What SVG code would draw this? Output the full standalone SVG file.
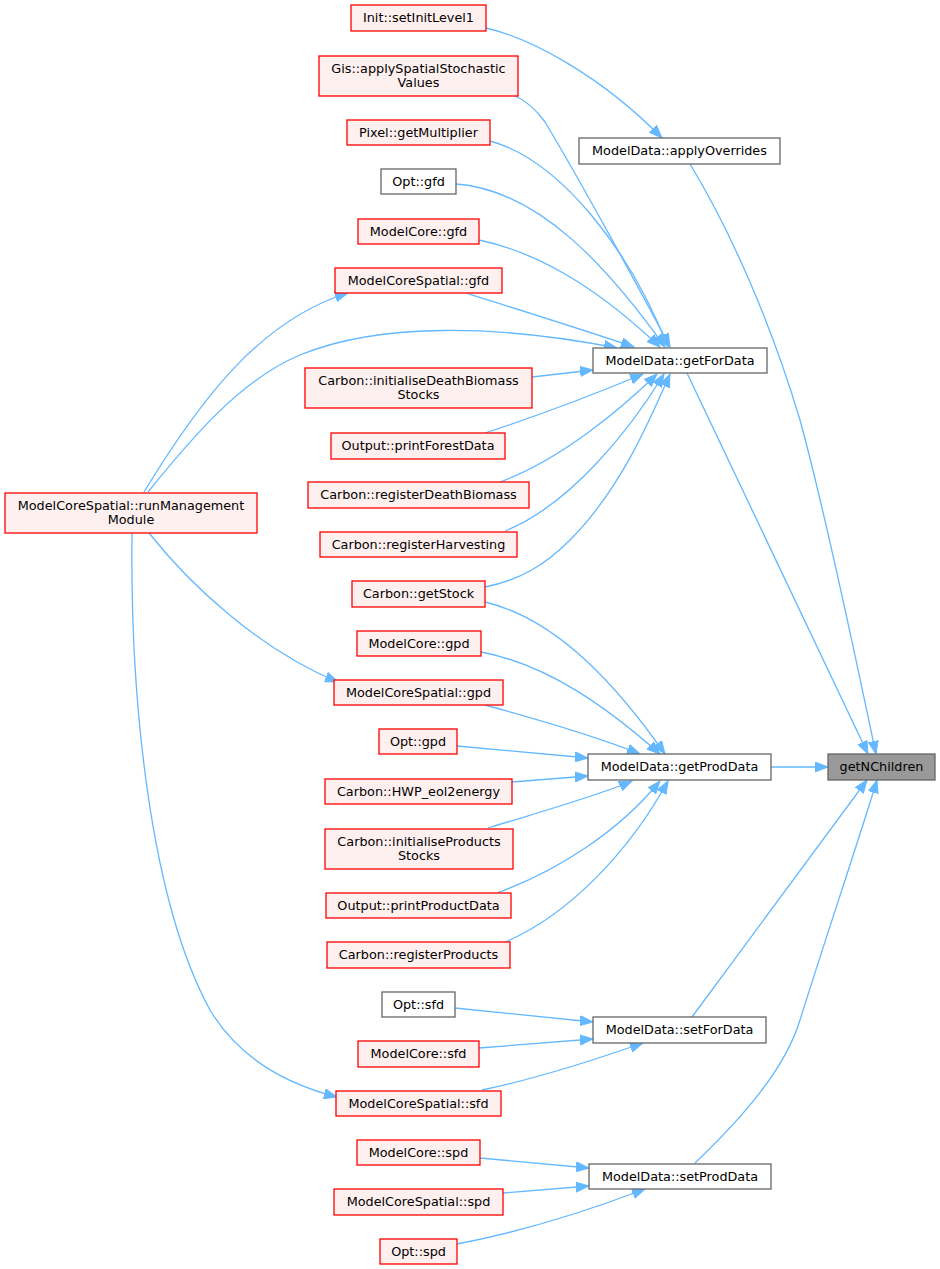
<svg xmlns="http://www.w3.org/2000/svg" width="940" height="1269" viewBox="0 0 940 1269">
<style>
  .n rect{stroke-width:1.3}
  .red rect{fill:#fff0f0;stroke:#ff0000}
  .wht rect{fill:#ffffff;stroke:#666666}
  .cur rect{fill:#999999;stroke:#666666}
  text{font-family:"DejaVu Sans","Liberation Sans",sans-serif;font-size:12.8px;fill:#000000;text-anchor:middle}
  .e path{fill:none;stroke:#63b8ff;stroke-width:1.3;marker-end:url(#arr)}
</style>
<defs>
  <marker id="arr" markerUnits="userSpaceOnUse" markerWidth="14" markerHeight="11" refX="13" refY="5" orient="auto" viewBox="0 0 14 10">
    <path d="M0,0 L13,5 L0,10 z" fill="#63b8ff" stroke="#63b8ff" stroke-width="1"/>
  </marker>
</defs>
<rect width="940" height="1269" fill="#ffffff"/>
<g id="edges" class="e">
  <path d="M690,164 C730,230 770,320 800,420 C830,530 862,690 876,754"/>
  <path d="M687,373 L868,754"/>
  <path d="M771,767 L828,767"/>
  <path d="M692,1017 L867,780"/>
  <path d="M695,1163 C740,1120 785,1070 800,1020 C825,940 862,830 877,780"/>
  <path d="M486,28 C530,38 600,75 662,138"/>
  <path d="M513,95 C525,100 535,108 545,122 C580,180 640,290 670,347"/>
  <path d="M490,141 C560,160 630,250 668,347"/>
  <path d="M456,184 C540,190 610,270 665,347"/>
  <path d="M479,240 C550,255 610,300 660,347"/>
  <path d="M466,293 C520,310 590,332 634,347"/>
  <path d="M148,492 C190,440 240,380 300,355 C380,322 500,325 617,348"/>
  <path d="M144,492 C200,400 260,320 348,293"/>
  <path d="M532,377 L593,370"/>
  <path d="M485,433 C540,415 600,392 643,374"/>
  <path d="M500,482 C560,460 620,410 657,374"/>
  <path d="M505,531 C570,505 630,430 664,374"/>
  <path d="M485,587 C520,580 545,565 570,540 C620,490 650,420 670,374"/>
  <path d="M485,602 C560,620 620,690 665,754"/>
  <path d="M481,652 C550,665 610,710 660,754"/>
  <path d="M485,705 C540,720 600,738 640,754"/>
  <path d="M149,533 C190,585 260,650 338,682"/>
  <path d="M457,746 L588,758"/>
  <path d="M512,782 L588,776"/>
  <path d="M488,828 C540,812 600,795 632,781"/>
  <path d="M497,893 C560,870 620,830 660,781"/>
  <path d="M503,943 C570,915 630,850 668,781"/>
  <path d="M132,533 C130,700 150,900 210,1010 C240,1060 290,1085 337,1097"/>
  <path d="M455,1008 L593,1022"/>
  <path d="M479,1048 L593,1039"/>
  <path d="M482,1090 C540,1078 600,1058 643,1043"/>
  <path d="M480,1158 L589,1168"/>
  <path d="M503,1193 L589,1186"/>
  <path d="M457,1244 C520,1232 590,1210 645,1189"/>
</g>
<g id="n_setInitLevel1" class="n red"><rect x="351" y="5" width="135" height="26"/><text x="418.5" y="22">Init::setInitLevel1</text></g>
<g id="n_gis" class="n red"><rect x="319" y="56" width="199" height="40"/><text x="418.5" y="72.5">Gis::applySpatialStochastic</text><text x="418.5" y="87">Values</text></g>
<g id="n_pixel" class="n red"><rect x="347" y="120" width="143" height="25"/><text x="418.5" y="137">Pixel::getMultiplier</text></g>
<g id="n_optgfd" class="n wht"><rect x="381" y="169" width="75" height="25"/><text x="418.5" y="186">Opt::gfd</text></g>
<g id="n_mcgfd" class="n red"><rect x="358" y="219" width="121" height="25"/><text x="418.5" y="236">ModelCore::gfd</text></g>
<g id="n_mcsgfd" class="n red"><rect x="335" y="268" width="167" height="25"/><text x="418.5" y="285">ModelCoreSpatial::gfd</text></g>
<g id="n_initDB" class="n red"><rect x="305" y="368" width="227" height="40"/><text x="418.5" y="384.5">Carbon::initialiseDeathBiomass</text><text x="418.5" y="399">Stocks</text></g>
<g id="n_printForest" class="n red"><rect x="331" y="433" width="174" height="26"/><text x="418" y="450">Output::printForestData</text></g>
<g id="n_regDB" class="n red"><rect x="308" y="482" width="221" height="26"/><text x="418.5" y="499">Carbon::registerDeathBiomass</text></g>
<g id="n_regHarv" class="n red"><rect x="320" y="532" width="197" height="25"/><text x="418.5" y="549">Carbon::registerHarvesting</text></g>
<g id="n_runMgmt" class="n red"><rect x="5" y="493" width="252" height="40"/><text x="131" y="509.5">ModelCoreSpatial::runManagement</text><text x="131" y="524">Module</text></g>
<g id="n_getStock" class="n red"><rect x="352" y="581" width="133" height="26"/><text x="418.5" y="598">Carbon::getStock</text></g>
<g id="n_mcgpd" class="n red"><rect x="357" y="631" width="124" height="25"/><text x="419" y="648">ModelCore::gpd</text></g>
<g id="n_mcsgpd" class="n red"><rect x="334" y="680" width="169" height="25"/><text x="418.5" y="697">ModelCoreSpatial::gpd</text></g>
<g id="n_optgpd" class="n red"><rect x="379" y="729" width="78" height="25"/><text x="418" y="746">Opt::gpd</text></g>
<g id="n_hwp" class="n red"><rect x="325" y="779" width="187" height="25"/><text x="418.5" y="796">Carbon::HWP_eol2energy</text></g>
<g id="n_initProd" class="n red"><rect x="325" y="829" width="188" height="40"/><text x="419" y="845.5">Carbon::initialiseProducts</text><text x="419" y="860">Stocks</text></g>
<g id="n_printProd" class="n red"><rect x="326" y="893" width="185" height="25"/><text x="418.5" y="910">Output::printProductData</text></g>
<g id="n_regProd" class="n red"><rect x="327" y="942" width="183" height="26"/><text x="418.5" y="959">Carbon::registerProducts</text></g>
<g id="n_optsfd" class="n wht"><rect x="382" y="992" width="73" height="25"/><text x="418.5" y="1009">Opt::sfd</text></g>
<g id="n_mcsfd" class="n red"><rect x="358" y="1041" width="121" height="26"/><text x="418.5" y="1058">ModelCore::sfd</text></g>
<g id="n_mcssfd" class="n red"><rect x="336" y="1091" width="165" height="25"/><text x="418.5" y="1108">ModelCoreSpatial::sfd</text></g>
<g id="n_mcspd" class="n red"><rect x="357" y="1140" width="123" height="25"/><text x="418.5" y="1157">ModelCore::spd</text></g>
<g id="n_mcsspd" class="n red"><rect x="334" y="1189" width="169" height="26"/><text x="418.5" y="1206">ModelCoreSpatial::spd</text></g>
<g id="n_optspd" class="n red"><rect x="380" y="1239" width="77" height="25"/><text x="418.5" y="1256">Opt::spd</text></g>
<g id="n_applyOverrides" class="n wht"><rect x="579" y="138" width="201" height="26"/><text x="679.5" y="155">ModelData::applyOverrides</text></g>
<g id="n_getForData" class="n wht"><rect x="593" y="348" width="174" height="25"/><text x="680" y="365">ModelData::getForData</text></g>
<g id="n_getProdData" class="n wht"><rect x="588" y="754" width="183" height="26"/><text x="679.5" y="771">ModelData::getProdData</text></g>
<g id="n_setForData" class="n wht"><rect x="593" y="1017" width="173" height="26"/><text x="679.5" y="1034">ModelData::setForData</text></g>
<g id="n_setProdData" class="n wht"><rect x="589" y="1164" width="182" height="25"/><text x="680" y="1181">ModelData::setProdData</text></g>
<g id="n_getNChildren" class="n cur"><rect x="828" y="754" width="107" height="26"/><text x="881.5" y="771">getNChildren</text></g>
</svg>
